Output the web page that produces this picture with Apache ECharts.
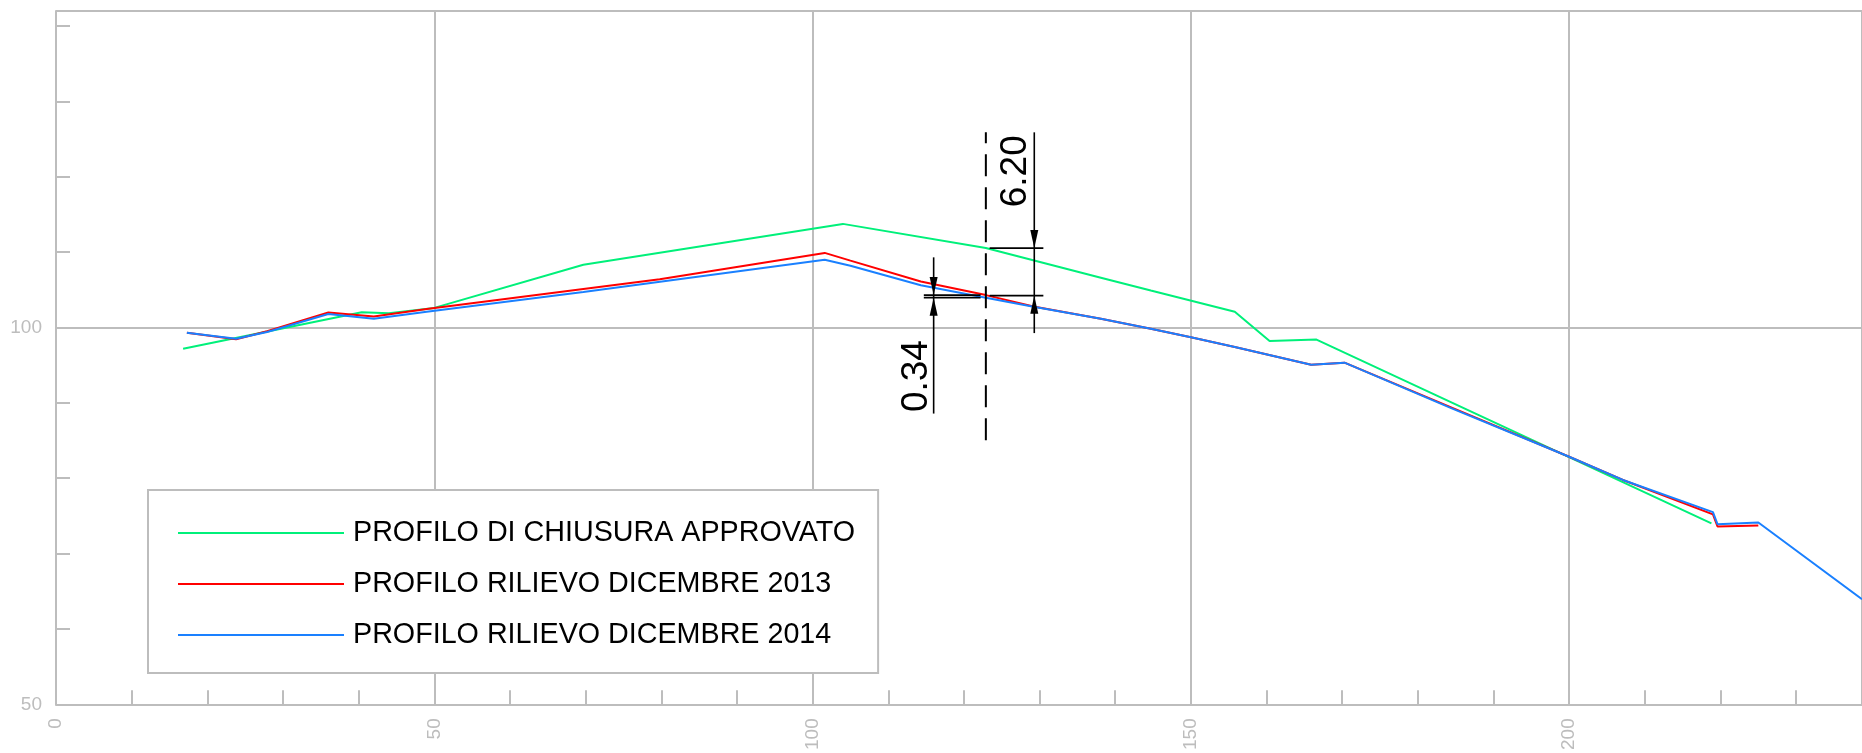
<!DOCTYPE html>
<html>
<head>
<meta charset="utf-8">
<script src="https://cdn.jsdelivr.net/npm/echarts@6/dist/echarts.min.js"></script>
<style>
html,body{margin:0;padding:0;background:#fff;}
#chart{width:1862px;height:753px;}
</style>
</head>
<body>
<div id="chart"></div>
<script>
// ---- data ----
const seriesNames = ['PROFILO DI CHIUSURA APPROVATO', 'PROFILO RILIEVO DICEMBRE 2013', 'PROFILO RILIEVO DICEMBRE 2014'];

const xGreen = [16.8, 40.4, 44.0, 50.0, 69.7, 104.0, 122.9, 138.1, 144.7, 155.8, 160.4, 166.6, 218.8];
const yGreen = [97.18, 102.03, 101.9, 102.6, 108.33, 113.75, 110.54, 106.6, 104.9, 102.1, 98.2, 98.4, 74.0];

const xRed = [17.3, 23.8, 27.9, 36.0, 42.0, 49.0, 69.7, 79.8, 101.6, 105.0, 114.3, 122.9, 129.2, 138.1, 144.7, 150.0, 155.8, 165.9, 170.3, 184.4, 200.0, 207.1, 219.0, 219.6, 225.0];
const yRed = [99.3, 98.45, 99.5, 102.0, 101.45, 102.45, 105.1, 106.4, 109.9, 108.87, 106.1, 104.3, 102.8, 101.15, 99.83, 98.7, 97.4, 95.07, 95.33, 89.4, 82.85, 79.77, 75.2, 73.6, 73.73];

const xBlue = [17.3, 23.8, 27.9, 36.0, 42.0, 49.0, 69.7, 101.6, 105.0, 114.3, 122.9, 129.2, 138.1, 144.7, 150.0, 155.8, 165.9, 170.3, 184.4, 200.0, 207.1, 219.0, 219.6, 225.0, 238.7];
const yBlue = [99.3, 98.5, 99.4, 101.8, 101.15, 102.1, 104.7, 109.0, 108.2, 105.6, 103.96, 102.75, 101.15, 99.83, 98.7, 97.4, 95.07, 95.33, 89.3, 82.85, 79.77, 75.5, 73.9, 74.13, 63.95];

// axis ranges / tick labels
const xRange = [0, 238.7];
const yRange = [50, 142];
const xLabelValues = [0, 50, 100, 150, 200];
const yLabelValues = [50, 100];

// dimension annotation (data units)
const dashLineX = [122.9, 122.9];
const dashLineY = [85.05, 125.9];
const dimRightX = [129.3];
const dimRightY = [125.9, 110.54, 104.23, 99.26];     // top, upper tip, lower tip, bottom
const dimRightExtX = [123.4, 130.5];
const dimLeftX = [116.0];
const dimLeftY = [109.31, 104.30, 103.96, 88.58];     // top, upper tip, lower tip, bottom
const dimLeftExtX = [114.7, 122.2];
const dimTexts = ['6.20', '0.34'];
const dimTextX = [126.85, 113.76];
const dimTextY = [120.73, 93.55];

// ---- chart ----
const FONT = "'Liberation Sans', Arial, sans-serif";
const GRAY = '#bdbdbd';
const zip = (xs, ys) => xs.map((x, i) => [x, ys[i]]);

function renderAnno(params, api) {
  const c = p => api.coord(p);
  const kids = [];
  function seg(x1, y1, x2, y2, w, dash) {
    const a = c([x1, y1]), b = c([x2, y2]);
    kids.push({type: 'line', shape: {x1: a[0], y1: a[1], x2: b[0], y2: b[1]},
      style: {stroke: '#000', lineWidth: w, lineDash: dash || null}});
  }
  function arrow(x, y, dir) {
    const p = c([x, y]);
    const L = 18, W = 4;
    kids.push({type: 'polygon', shape: {points: [[p[0], p[1]], [p[0] - W, p[1] - dir * L], [p[0] + W, p[1] - dir * L]]},
      style: {fill: '#000'}});
  }
  // dashed section line
  seg(dashLineX[0], dashLineY[0], dashLineX[1], dashLineY[1], 2, [22, 11]);
  // right dimension
  seg(dimRightX[0], dimRightY[0], dimRightX[0], dimRightY[3], 1.6);
  seg(dimRightExtX[0], dimRightY[1], dimRightExtX[1], dimRightY[1], 1.6);
  seg(dimRightExtX[0], dimRightY[2], dimRightExtX[1], dimRightY[2], 1.6);
  arrow(dimRightX[0], dimRightY[1], 1);
  arrow(dimRightX[0], dimRightY[2], -1);
  // left dimension
  seg(dimLeftX[0], dimLeftY[0], dimLeftX[0], dimLeftY[3], 1.6);
  seg(dimLeftExtX[0], dimLeftY[1], dimLeftExtX[1], dimLeftY[1], 1.6);
  seg(dimLeftExtX[0], dimLeftY[2], dimLeftExtX[1], dimLeftY[2], 1.6);
  arrow(dimLeftX[0], dimLeftY[1], 1);
  arrow(dimLeftX[0], dimLeftY[2], -1);
  // texts
  dimTexts.forEach((t, i) => {
    const p = c([dimTextX[i], dimTextY[i]]);
    kids.push({type: 'text', x: p[0], y: p[1], rotation: Math.PI / 2,
      style: {text: t, fontSize: 37, fontFamily: FONT, fill: '#000', align: 'center', verticalAlign: 'middle'}});
  });
  return {type: 'group', children: kids};
}

const chart = echarts.init(document.getElementById('chart'), null, {renderer: 'canvas'});
const axisLineStyle = {color: GRAY, width: 2};
chart.setOption({
  animation: false,
  backgroundColor: '#fff',
  textStyle: {fontFamily: FONT},
  grid: {left: 56, right: 0, top: 11, bottom: 46, containLabel: false},
  legend: {
    orient: 'vertical', left: 148, top: 490,
    data: seriesNames,
    selectedMode: false,
    icon: 'rect',
    itemWidth: 166, itemHeight: 2, itemGap: 17,
    padding: [26, 23, 21, 30],
    backgroundColor: '#fff', borderColor: GRAY, borderWidth: 2, borderRadius: 0,
    textStyle: {fontSize: 28.7, color: '#000', fontFamily: FONT, lineHeight: 34, padding: [0, 0, 0, 4]}
  },
  xAxis: [{
    type: 'value', min: xRange[0], max: xRange[1], interval: 10, position: 'bottom',
    axisLine: {show: true, onZero: false, lineStyle: axisLineStyle},
    axisTick: {show: true, inside: true, length: 14, lineStyle: axisLineStyle},
    axisLabel: {show: true, rotate: 90, margin: 14, fontSize: 19, color: GRAY, fontFamily: FONT, showMaxLabel: false,
      formatter: v => xLabelValues.indexOf(v) >= 0 ? String(v) : ''},
    splitLine: {show: false}
  }, {
    type: 'value', min: xRange[0], max: xRange[1], interval: 50, position: 'bottom',
    axisLine: {show: false}, axisTick: {show: false}, axisLabel: {show: false},
    splitLine: {show: true, lineStyle: {color: GRAY, width: 2}}
  }],
  yAxis: [{
    type: 'value', min: yRange[0], max: yRange[1], interval: 10, position: 'left',
    axisLine: {show: true, onZero: false, lineStyle: axisLineStyle},
    axisTick: {show: true, inside: true, length: 14, lineStyle: axisLineStyle},
    axisLabel: {show: true, margin: 14, fontSize: 19, color: GRAY, fontFamily: FONT, showMaxLabel: false,
      formatter: v => yLabelValues.indexOf(v) >= 0 ? String(v) : ''},
    splitLine: {show: false}
  }, {
    type: 'value', min: yRange[0], max: yRange[1], interval: 50, position: 'left',
    axisLine: {show: false}, axisTick: {show: false}, axisLabel: {show: false},
    splitLine: {show: true, lineStyle: {color: GRAY, width: 2}}
  }],
  series: [
    {name: seriesNames[0], type: 'line', data: zip(xGreen, yGreen), symbol: 'none', z: 3,
      lineStyle: {color: '#00f07a', width: 2}, itemStyle: {color: '#00f07a'}},
    {name: seriesNames[1], type: 'line', data: zip(xRed, yRed), symbol: 'none', z: 4,
      lineStyle: {color: '#ff0000', width: 2}, itemStyle: {color: '#ff0000'}},
    {name: seriesNames[2], type: 'line', data: zip(xBlue, yBlue), symbol: 'none', z: 5,
      lineStyle: {color: '#1a80ff', width: 2}, itemStyle: {color: '#1a80ff'}},
    {name: 'anno', type: 'custom', renderItem: renderAnno, data: [[dashLineX[0], 100]],
      encode: {x: 0, y: 1}, silent: true, z: 6, clip: false}
  ]
});
</script>
</body>
</html>
